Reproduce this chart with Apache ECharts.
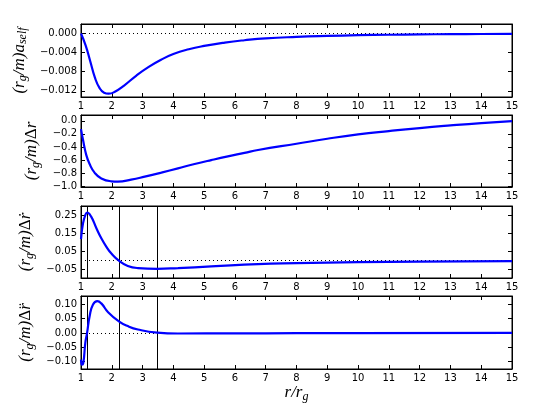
<!DOCTYPE html>
<html>
<head>
<meta charset="utf-8">
<script src="https://cdn.jsdelivr.net/npm/echarts@6/dist/echarts.min.js"></script>
<style>html,body{margin:0;padding:0;background:#fff;}#c{width:545px;height:411px;}</style>
</head>
<body>
<div id="c"></div>
<script>
// ---- data ----
var xTicks = [1,2,3,4,5,6,7,8,9,10,11,12,13,14,15];

var r1 = [1, 1.15, 1.3, 1.45, 1.6, 1.75, 1.9, 2.1, 2.4, 2.8, 3.2, 3.6, 4.0, 4.5, 5.0, 5.67, 6.31, 7, 8, 9, 10, 11, 12, 13, 14, 15];
var aSelf = [0, -0.0025, -0.0058, -0.0092, -0.0114, -0.0124, -0.0126, -0.0122, -0.0109, -0.0088, -0.0070, -0.0055, -0.0043, -0.0033, -0.0026, -0.0019, -0.0014, -0.0010, -0.0007, -0.0005, -0.00035, -0.00025, -0.00018, -0.00013, -0.0001, -0.00008];

var r2 = [1, 1.065, 1.17, 1.28, 1.44, 1.66, 1.98, 2.2, 2.63, 3.07, 3.61, 4.15, 4.69, 5.23, 5.77, 6.31, 6.75, 8, 9, 10, 11, 12, 13, 14, 15];
var dR = [-0.127, -0.29, -0.52, -0.66, -0.79, -0.88, -0.923, -0.928, -0.898, -0.852, -0.79, -0.725, -0.66, -0.60, -0.543, -0.49, -0.446, -0.35, -0.274, -0.208, -0.157, -0.111, -0.071, -0.035, -0.005];

var r3 = [1, 1.065, 1.14, 1.2, 1.33, 1.5, 1.66, 1.82, 1.98, 2.23, 2.52, 2.85, 3.47, 4.15, 5.23, 6.75, 8, 10, 12, 15];
var dRdot = [0.119, 0.207, 0.253, 0.267, 0.244, 0.18, 0.124, 0.078, 0.041, 0, -0.029, -0.041, -0.045, -0.041, -0.032, -0.019, -0.014, -0.008, -0.005, -0.002];

var r4 = [1, 1.03, 1.075, 1.14, 1.2, 1.28, 1.39, 1.53, 1.66, 1.88, 2.23, 2.52, 2.85, 3.47, 4.15, 6, 8, 10, 15];
var dRddot = [-0.094, -0.112, -0.106, -0.035, 0.002, 0.059, 0.1, 0.112, 0.104, 0.073, 0.041, 0.024, 0.012, 0.001, -0.002, -0.0015, -0.001, -0.0005, 0];

var vLines = [1.2, 2.23, 3.47];

var yTicks1 = [0, -0.004, -0.008, -0.012];
var yTicks2 = [0, -0.2, -0.4, -0.6, -0.8, -1.0];
var yTicks3 = [0.25, 0.15, 0.05, -0.05];
var yTicks4 = [0.10, 0.05, 0, -0.05, -0.10];

var yRanges = [[-0.0133, 0.002], [-1.01, 0.088], [-0.096, 0.303], [-0.127, 0.13]];
var yDigits = [3, 1, 2, 2];
var yLabels = [
  '{n|(r}{s|g}{n|/m)a}{s|self}',
  '{n|(r}{s|g}{n|/m)}{u|Δ}{n|r}',
  '{n|(r}{s|g}{n|/m)}{u|Δ}{n|ṙ}',
  '{n|(r}{s|g}{n|/m)}{u|Δ}{n|r̈}'
];
var nameGaps = [48, 33, 44, 44];

// ---- build ----
function zip(xs, ys){ return xs.map(function(x,i){ return [x, ys[i]]; }); }
var seriesData = [zip(r1,aSelf), zip(r2,dR), zip(r3,dRdot), zip(r4,dRddot)];
var yTickSets = [yTicks1, yTicks2, yTicks3, yTicks4];
var tops = [24, 115, 206, 296];
var heights = [73, 72, 72, 73];

var FONT = 'DejaVu Sans';
var rich = {
  n: {fontFamily: 'Liberation Serif', fontStyle: 'italic', fontSize: 17, color: '#000'},
  u: {fontFamily: 'Liberation Serif', fontSize: 17, color: '#000'},
  s: {fontFamily: 'Liberation Serif', fontStyle: 'italic', fontSize: 12, color: '#000', padding: [8,0,0,0]}
};

var grids = [], xAxes = [], yAxes = [], series = [];
for (var i = 0; i < 4; i++) {
  grids.push({left: 81, right: 33, top: tops[i], height: heights[i], show: true, borderColor: '#000', borderWidth: 1, backgroundColor: 'transparent'});
  var common = {gridIndex: i, type: 'value', min: 1, max: 15, interval: 1,
    axisLine: {show: true, onZero: false, lineStyle: {color: '#000', width: 1}},
    axisTick: {show: true, inside: true, length: 4, lineStyle: {color: '#000'}},
    splitLine: {show: false}};
  xAxes.push(Object.assign({}, common, {position: 'bottom',
    axisLabel: {show: true, fontFamily: FONT, fontSize: 10, color: '#000', margin: 4},
    name: i === 3 ? '{n|r/r}{s|g}' : '', nameLocation: 'middle', nameGap: 13,
    nameTextStyle: {rich: rich}}));
  xAxes.push(Object.assign({}, common, {position: 'top', axisLabel: {show: false}}));
  (function(i){
    var ticks = yTickSets[i];
    var yc = {gridIndex: i, type: 'value', min: yRanges[i][0], max: yRanges[i][1],
      axisLine: {show: true, onZero: false, lineStyle: {color: '#000', width: 1}},
      splitLine: {show: false}};
    yAxes.push(Object.assign({}, yc, {position: 'left',
      axisTick: {show: true, inside: true, length: 4, customValues: ticks, lineStyle: {color: '#000'}},
      axisLabel: {show: true, customValues: ticks, fontFamily: FONT, fontSize: 10, color: '#000', margin: 4,
        formatter: function(v){ return Number(v).toFixed(yDigits[i]).replace('-', '\u2212'); }},
      name: yLabels[i], nameLocation: 'middle', nameRotate: 90, nameGap: nameGaps[i],
      nameTextStyle: {rich: rich}}));
    yAxes.push(Object.assign({}, yc, {position: 'right',
      axisTick: {show: true, inside: true, length: 4, customValues: ticks, lineStyle: {color: '#000'}},
      axisLabel: {show: false}}));
  })(i);

  var ml = [];
  if (i !== 1) ml.push({yAxis: 0, lineStyle: {type: [1, 3], color: '#000', width: 1}});
  if (i >= 2) vLines.forEach(function(v){ ml.push({xAxis: v, lineStyle: {type: 'solid', color: '#000', width: 1}}); });

  series.push({type: 'line', xAxisIndex: 2*i, yAxisIndex: 2*i, data: seriesData[i],
    showSymbol: false, smooth: 0.5, clip: true,
    lineStyle: {color: '#0000ff', width: 2.2}, itemStyle: {color: '#0000ff'}, z: 3,
    markLine: {silent: true, symbol: 'none', label: {show: false}, animation: false, data: ml, z: 2}});
}

var chart = echarts.init(document.getElementById('c'), null, {renderer: 'canvas'});
chart.setOption({animation: false, backgroundColor: '#fff', grid: grids, xAxis: xAxes, yAxis: yAxes, series: series});
</script>
</body>
</html>
